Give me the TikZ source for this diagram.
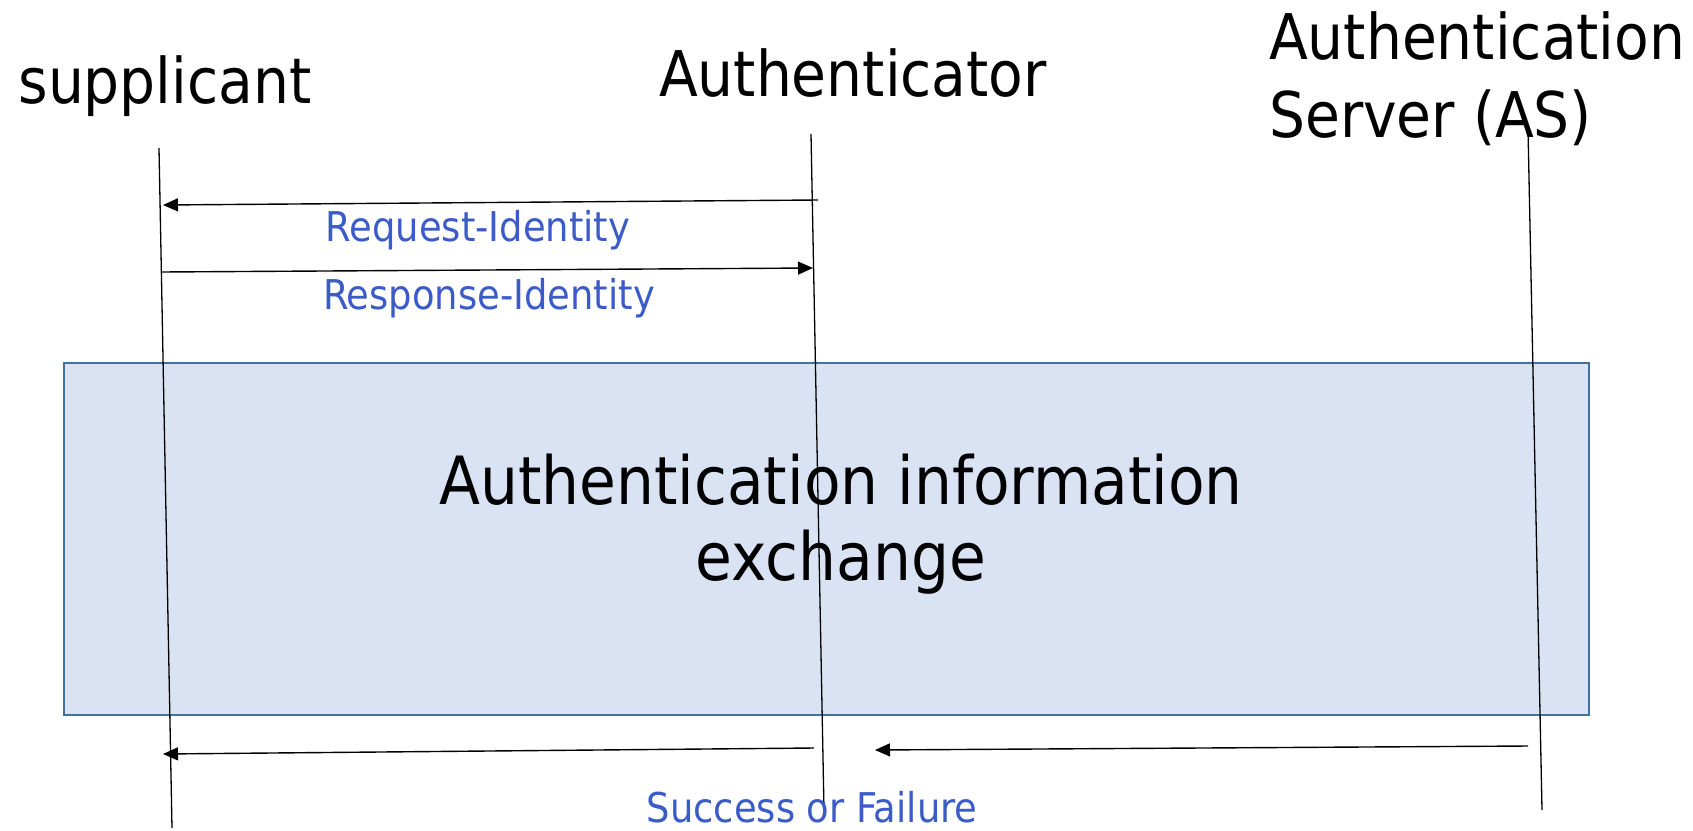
\documentclass[tikz,border=0pt]{standalone}
\usepackage{fontspec}
\setmainfont{DejaVu Sans Condensed}
\usetikzlibrary{arrows.meta}
\definecolor{msgblue}{RGB}{59,91,200}
\definecolor{boxfill}{RGB}{218,227,243}
\definecolor{boxline}{RGB}{65,113,156}
\begin{document}
\begin{tikzpicture}[x=1pt,y=-1pt,
  actor/.style={font=\fontsize{63}{78}\selectfont, anchor=base, inner sep=0pt},
  msglabel/.style={font=\fontsize{41}{48}\selectfont, text=msgblue, anchor=base, inner sep=0pt},
  lifeline/.style={line width=1.3pt, draw=black},
  msg/.style={line width=1.4pt, draw=black, -{Triangle[length=15pt,width=13pt]}}]
\useasboundingbox (0,0) rectangle (1693,830);

% exchange block
\path[draw=boxline, fill=boxfill, line width=2.6pt] (64,363) rectangle (1589,715);
\node[font=\fontsize{66.5}{76}\selectfont, align=center, inner sep=0pt, anchor=base] (exch) at (841,580)
  {Authentication information\\exchange};

% participants
\node[actor] (sup) at (165,103) {supplicant};
\node[actor] (auth) at (853,96) {Authenticator};
\node[actor, anchor=base west, align=left] (as) at (1269,137) {Authentication\\Server (AS)};

% lifelines
\coordinate (s1) at (159,148);  \coordinate (s2) at (172,828);
\coordinate (a1) at (811,134);  \coordinate (a2) at (824,810);
\coordinate (as1) at (1528,130); \coordinate (as2) at (1542,810);
\draw[lifeline] (s1) -- (s2);
\draw[lifeline] (a1) -- (a2);
\draw[lifeline] (as1) -- (as2);

% message end points
\coordinate (reqA) at (818,200);  \coordinate (reqS) at (163,205);
\coordinate (resS) at (161,272);  \coordinate (resA) at (813,268);
\coordinate (sfA) at (814,748);   \coordinate (sfS) at (163,754);
\coordinate (sfAS) at (1528,746); \coordinate (sfA2) at (875,750);

\draw[msg] (reqA) -- (reqS);
\draw[msg] (resS) -- (resA);
\draw[msg] (sfA) -- (sfS);
\draw[msg] (sfAS) -- (sfA2);

% message labels
\node[msglabel] (lreq) at (478,241) {Request-Identity};
\node[msglabel] (lres) at (489,309) {Response-Identity};
\node[msglabel] (lsf) at (812,822) {Success or Failure};
\end{tikzpicture}
\end{document}
